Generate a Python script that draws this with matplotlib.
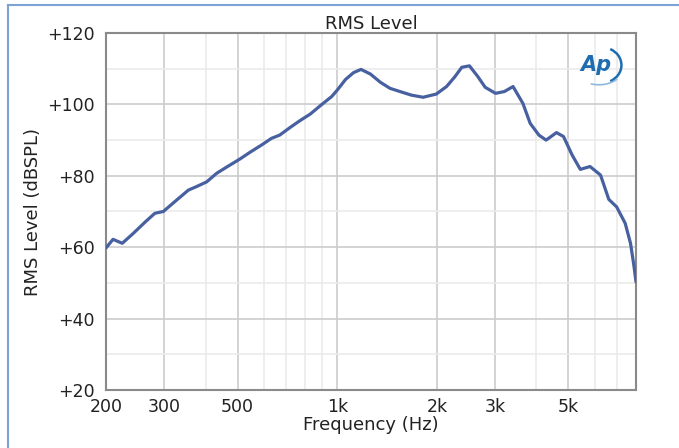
import matplotlib
matplotlib.use("Agg")
import matplotlib.pyplot as plt
from matplotlib.lines import Line2D
from matplotlib.patches import Arc
from matplotlib.ticker import FixedLocator, NullFormatter

# RMS level vs frequency
FREQ_HZ = [200, 210, 224, 242, 263, 281, 298, 327, 355, 376, 403, 432, 468,
           508, 545, 590, 633, 670, 722, 770, 829, 893, 962, 1000, 1060, 1120,
           1180, 1260, 1350, 1444, 1548, 1675, 1818, 1993, 2140, 2270, 2380,
           2510, 2660, 2800, 3010, 3200, 3400, 3640, 3830, 4070, 4280, 4600,
           4830, 5130, 5430, 5810, 6250, 6620, 6990, 7420, 7700, 7880, 8000]
LEVEL_DB = [59.8, 62.2, 61.1, 63.9, 67.1, 69.5, 70.0, 73.2, 76.0, 77.0, 78.3,
            80.7, 82.7, 84.7, 86.6, 88.6, 90.5, 91.4, 93.6, 95.4, 97.3, 99.8,
            102.2, 104.0, 107.0, 108.9, 109.8, 108.5, 106.2, 104.5, 103.6,
            102.6, 102.0, 102.9, 105.0, 107.8, 110.4, 110.8, 107.8, 104.8,
            103.1, 103.6, 105.0, 100.3, 94.7, 91.4, 90.0, 92.1, 91.0, 85.8,
            81.8, 82.6, 80.2, 73.4, 71.3, 66.7, 61.1, 55.0, 50.3]

X_MAJOR = [200, 300, 500, 1000, 2000, 3000, 5000]
X_LABELS = ["200", "300", "500", "1k", "2k", "3k", "5k"]
X_MINOR = [400, 600, 700, 800, 900, 4000, 6000, 7000]
Y_MAJOR = [20, 40, 60, 80, 100, 120]
Y_MINOR = [30, 50, 70, 90, 110]

plt.rcParams["font.family"] = ["DejaVu Sans"]

fig = plt.figure(figsize=(6.79, 4.48), dpi=100)
ax = fig.add_axes([106 / 679, 58 / 448, 530 / 679, 357 / 448])

ax.plot(FREQ_HZ, LEVEL_DB, color="#4760a0", lw=2.3, solid_capstyle="round",
        solid_joinstyle="round", zorder=3)

ax.set_xscale("log")
ax.set_xlim(200, 8000)
ax.set_ylim(20, 120)
ax.xaxis.set_major_locator(FixedLocator(X_MAJOR))
ax.xaxis.set_minor_locator(FixedLocator(X_MINOR))
ax.xaxis.set_minor_formatter(NullFormatter())
ax.set_xticklabels(X_LABELS)
ax.set_yticks(Y_MAJOR)
ax.set_yticks(Y_MINOR, minor=True)
ax.set_yticklabels([f"+{v}" for v in Y_MAJOR])

ax.grid(which="major", color="#cccccc", lw=1.2)
ax.grid(which="minor", color="#ebebeb", lw=1.2)
ax.set_axisbelow(True)
ax.tick_params(which="both", length=0, labelsize=12.5, colors="#222222")
ax.tick_params(axis="y", pad=8)
ax.tick_params(axis="x", pad=6)
for s in ax.spines.values():
    s.set_color("#8a8a8a")
    s.set_linewidth(1.5)

ax.set_title("RMS Level", fontsize=13, color="#222222", pad=2)
ax.set_xlabel("Frequency (Hz)", fontsize=13, color="#222222", labelpad=0)
ax.set_ylabel("RMS Level (dBSPL)", fontsize=13, color="#222222", labelpad=4)

# AP logo in the top right corner
ax.text(0.925, 0.91, "Ap", transform=ax.transAxes, fontsize=15,
        fontstyle="italic", fontweight="bold", color="#1f6db0",
        ha="center", va="center", zorder=4)
ax.add_patch(Arc((0.935, 0.91), 0.075, 0.10, theta1=-70, theta2=70,
                 transform=ax.transAxes, color="#1f6db0", lw=1.8, zorder=4))
ax.add_patch(Arc((0.93, 0.90), 0.09, 0.09, theta1=-110, theta2=-40,
                 transform=ax.transAxes, color="#8fb8de", lw=1.2, zorder=4))

# window frame lines (top and left)
fig.add_artist(Line2D([8 / 679, 1], [1 - 5 / 448, 1 - 5 / 448],
                      transform=fig.transFigure, color="#7fa2d4", lw=1.5))
fig.add_artist(Line2D([8 / 679, 8 / 679], [0, 1 - 5 / 448],
                      transform=fig.transFigure, color="#7fa2d4", lw=1.5))

fig.savefig("out.png", dpi=100)
